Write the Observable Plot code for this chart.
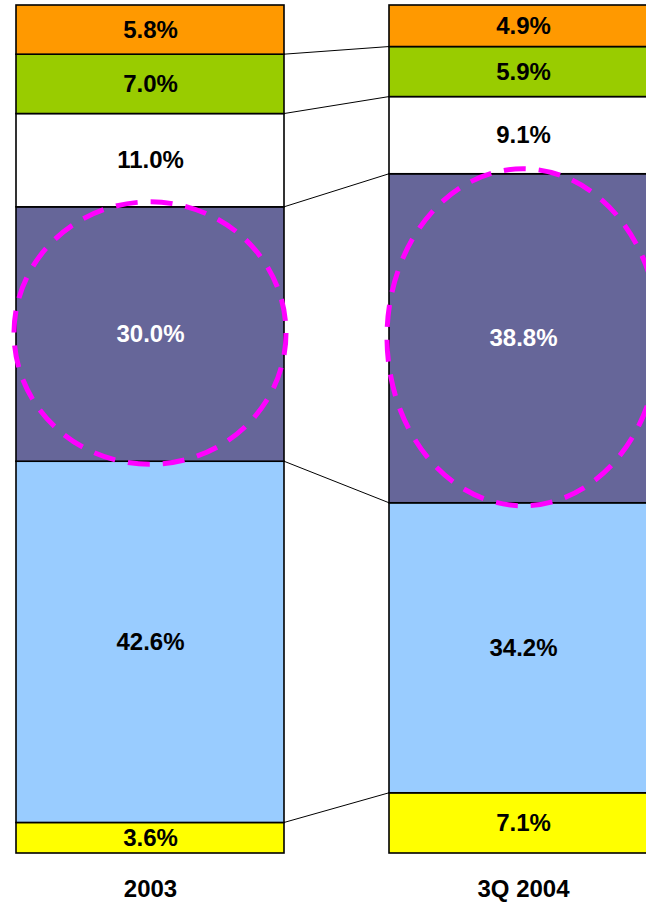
<!DOCTYPE html>
<html>
<head>
<meta charset="utf-8">
<script src="https://cdn.jsdelivr.net/npm/d3@7"></script>
<script src="https://cdn.jsdelivr.net/npm/@observablehq/plot@0.6"></script>
<style>
  html, body { margin: 0; padding: 0; background: #ffffff; overflow: hidden; }
  #chart { width: 646px; height: 904px; overflow: hidden; }
</style>
</head>
<body>
<div id="chart"></div>
<script>
// ---- data ----
const periods = ["2003", "3Q 2004"];
// segments listed bottom to top
const segments = ["Segment 1", "Segment 2", "Segment 3", "Segment 4", "Segment 5", "Segment 6"];
const values2003 = [3.6, 42.6, 30.0, 11.0, 7.0, 5.8];
const values3Q2004 = [7.1, 34.2, 38.8, 9.1, 5.9, 4.9];
const segmentColors = ["#ffff00", "#99ccff", "#666699", "#ffffff", "#99cc00", "#ff9900"];
const highlightedSegment = "Segment 3";

// ---- table ----
const seriesByPeriod = {"2003": values2003, "3Q 2004": values3Q2004};
const rows = [];
for (const p of periods) {
  seriesByPeriod[p].forEach((v, i) => rows.push({period: p, segment: segments[i], value: v}));
}
const textColor = d => d.segment === highlightedSegment ? "#ffffff" : "#000000";

// cumulative boundaries (internal only) for connector lines
function cumulative(arr) { let s = 0; return arr.map(v => (s += v)); }
const cumA = cumulative(values2003), cumB = cumulative(values3Q2004);
const connectors = cumA.slice(0, -1).map((v, i) => ({from: v, to: cumB[i]}));

// highlighted segment extents for ellipses
const hIdx = segments.indexOf(highlightedSegment);
const ellipses = periods.map(p => {
  const c = cumulative(seriesByPeriod[p]);
  return {period: p, lo: c[hIdx] - seriesByPeriod[p][hIdx], hi: c[hIdx]};
});

const connectorMark = (index, scales) => {
  const x = scales.x, y = scales.y, bw = x.bandwidth();
  const g = d3.create("svg:g");
  const xa = x(periods[0]) + bw, xb = x(periods[1]);
  for (const c of connectors) {
    g.append("line")
      .attr("x1", xa).attr("y1", y(c.from))
      .attr("x2", xb).attr("y2", y(c.to))
      .attr("stroke", "#000").attr("stroke-width", 1);
  }
  return g.node();
};

const ellipseMark = (index, scales) => {
  const x = scales.x, y = scales.y, bw = x.bandwidth();
  const g = d3.create("svg:g");
  for (const e of ellipses) {
    const y1 = y(e.hi), y2 = y(e.lo);
    g.append("ellipse")
      .attr("cx", x(e.period) + bw / 2)
      .attr("cy", (y1 + y2) / 2 - 1)
      .attr("rx", bw / 2 + 2)
      .attr("ry", Math.abs(y2 - y1) / 2 + 4)
      .attr("fill", "none")
      .attr("stroke", "#ff00ff")
      .attr("stroke-width", 5)
      .attr("stroke-dasharray", "22 13");
  }
  return g.node();
};

const chart = Plot.plot({
  width: 646,
  height: 904,
  marginTop: 5,
  marginBottom: 51,
  marginLeft: 15,
  marginRight: -12,
  style: {
    fontFamily: "'Liberation Sans', Arial, Helvetica, sans-serif",
    fontWeight: "bold",
    fontSize: "24px",
    color: "#000000",
    background: "#ffffff",
    overflow: "hidden"
  },
  x: {domain: periods, paddingInner: 0.2807, paddingOuter: 0, tickSize: 0, tickPadding: 26, label: null},
  y: {domain: [0, 100], axis: null},
  color: {domain: segments, range: segmentColors},
  marks: [
    Plot.barY(rows, Plot.stackY({x: "period", y: "value", fill: "segment", stroke: "#000000", strokeWidth: 1.6})),
    connectorMark,
    ellipseMark,
    Plot.text(rows, Plot.stackY({x: "period", y: "value", text: d => d.value.toFixed(1) + "%", fill: textColor, fontSize: 24, fontWeight: "bold"}))
  ]
});
document.getElementById("chart").appendChild(chart);
</script>
</body>
</html>
